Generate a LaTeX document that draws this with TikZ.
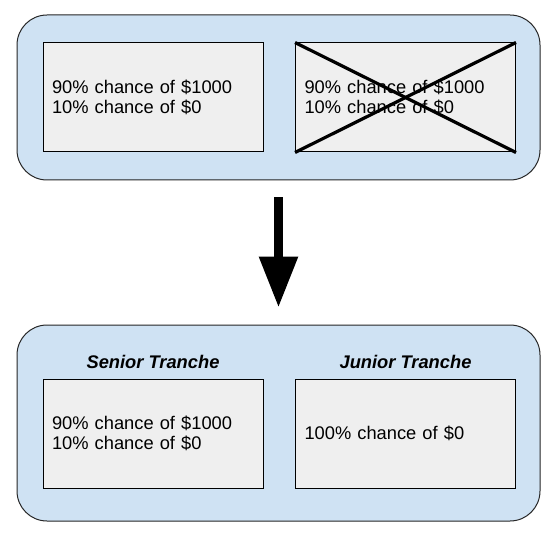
\documentclass[tikz,border=0pt]{standalone}
\usepackage{fontspec}
\setmainfont{Liberation Sans}
\usetikzlibrary{arrows.meta,calc}
\definecolor{paleblue}{HTML}{CFE2F3}
\definecolor{palegray}{HTML}{EFEFEF}

\begin{document}
\begin{tikzpicture}[x=1pt,y=-1pt]
    \tikzstyle{outer box}=[draw=black!85,fill=paleblue,rounded corners=30pt,minimum width=523pt,line width=1pt]
    \tikzstyle{inner box}=[draw=black,fill=palegray,minimum width=220pt,minimum height=109pt,text width=202pt,inner xsep=9pt,align=left,line width=1pt,font=\fontsize{18.3}{20.5}\selectfont]
    \tikzstyle{tranche}=[font=\fontsize{18.3}{20.5}\selectfont\bfseries\itshape]
    \useasboundingbox (0,0) rectangle (553,537);
    % before
    \node(0)[outer box,minimum height=165pt] at (278.5,97.5){};
    \node(1)[inner box] at (153,97.5){90\% chance of \$1000\\10\% chance of \$0};
    \node(2)[inner box] at (405.5,97.5){90\% chance of \$1000\\10\% chance of \$0};
    \draw[line width=3.2pt](2.north west)--(2.south east);
    \draw[line width=3.2pt](2.south west)--(2.north east);
    % after
    \node(3)[outer box,minimum height=196pt] at (278.5,423){};
    \node(4)[inner box] at (153,433.5){90\% chance of \$1000\\10\% chance of \$0};
    \node(5)[inner box] at (405.5,433.5){100\% chance of \$0};
    \node[tranche] at ($(4.north)+(0,-17)$){Senior Tranche};
    \node[tranche] at ($(5.north)+(0,-17)$){Junior Tranche};
    \draw[line width=9pt,-{Triangle[length=51pt,width=37pt]},shorten <=17pt,shorten >=17pt](0.south)--(3.north);
\end{tikzpicture}
\end{document}
